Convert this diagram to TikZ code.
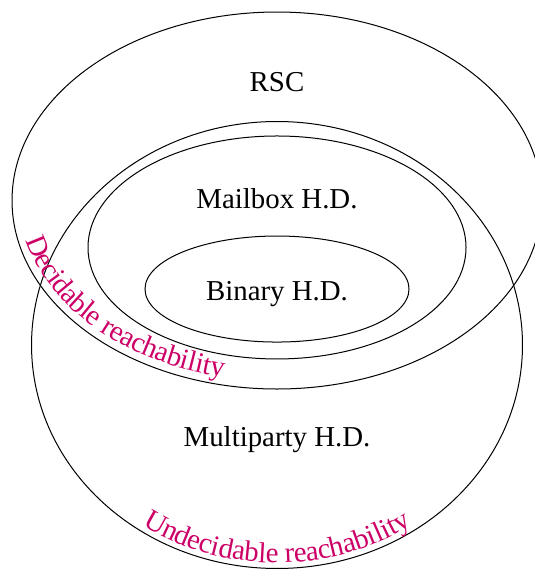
\documentclass[tikz,border=0pt]{standalone}
\usepackage{fontspec}
\setmainfont{Liberation Serif}
\usetikzlibrary{calc,decorations.text}
\definecolor{reachpink}{RGB}{204,0,102}

\begin{document}
\begin{tikzpicture}[
    font=\Large,
    set/.style={draw=black, line width=0.5pt},
    setlabel/.style={inner sep=2pt},
    reachlabel/.style={
        decorate,
        decoration={text along path, text color=reachpink, #1}
    }
]

\useasboundingbox (-4.860,-3.930) rectangle (4.509,6.053);

\coordinate (rsc) at (0,2.535);
\coordinate (mailbox) at (0,1.711);
\coordinate (binary) at (0,0.982);
\coordinate (multi) at (0,0);

\draw[set] (rsc) ellipse [x radius=4.649, y radius=3.307];
\draw[set] (multi) ellipse [x radius=4.307, y radius=3.921];
\draw[set] (mailbox) ellipse [x radius=3.316, y radius=1.956];
\draw[set] (binary) ellipse [x radius=2.316, y radius=0.930];

\node[setlabel] (rsclabel) at (0,4.61) {RSC};
\node[setlabel] (mailboxlabel) at (0,2.56) {Mailbox H.D.};
\node[setlabel] (binarylabel) at (0,0.886) {Binary H.D.};
\node[setlabel] (multilabel) at (0,-1.667) {Multiparty H.D.};

\path[reachlabel={raise=0.14cm, text={|\Large|Decidable reachability}}]
    ($(rsc)+(193:4.649 and 3.307)$) arc [start angle=193, end angle=285, x radius=4.649, y radius=3.307];
\path[reachlabel={raise=0.1cm, text align=center, text={|\Large|Undecidable reachability}}]
    ($(multi)+(215:4.307 and 3.921)$) arc [start angle=215, end angle=325, x radius=4.307, y radius=3.921];

\end{tikzpicture}
\end{document}
